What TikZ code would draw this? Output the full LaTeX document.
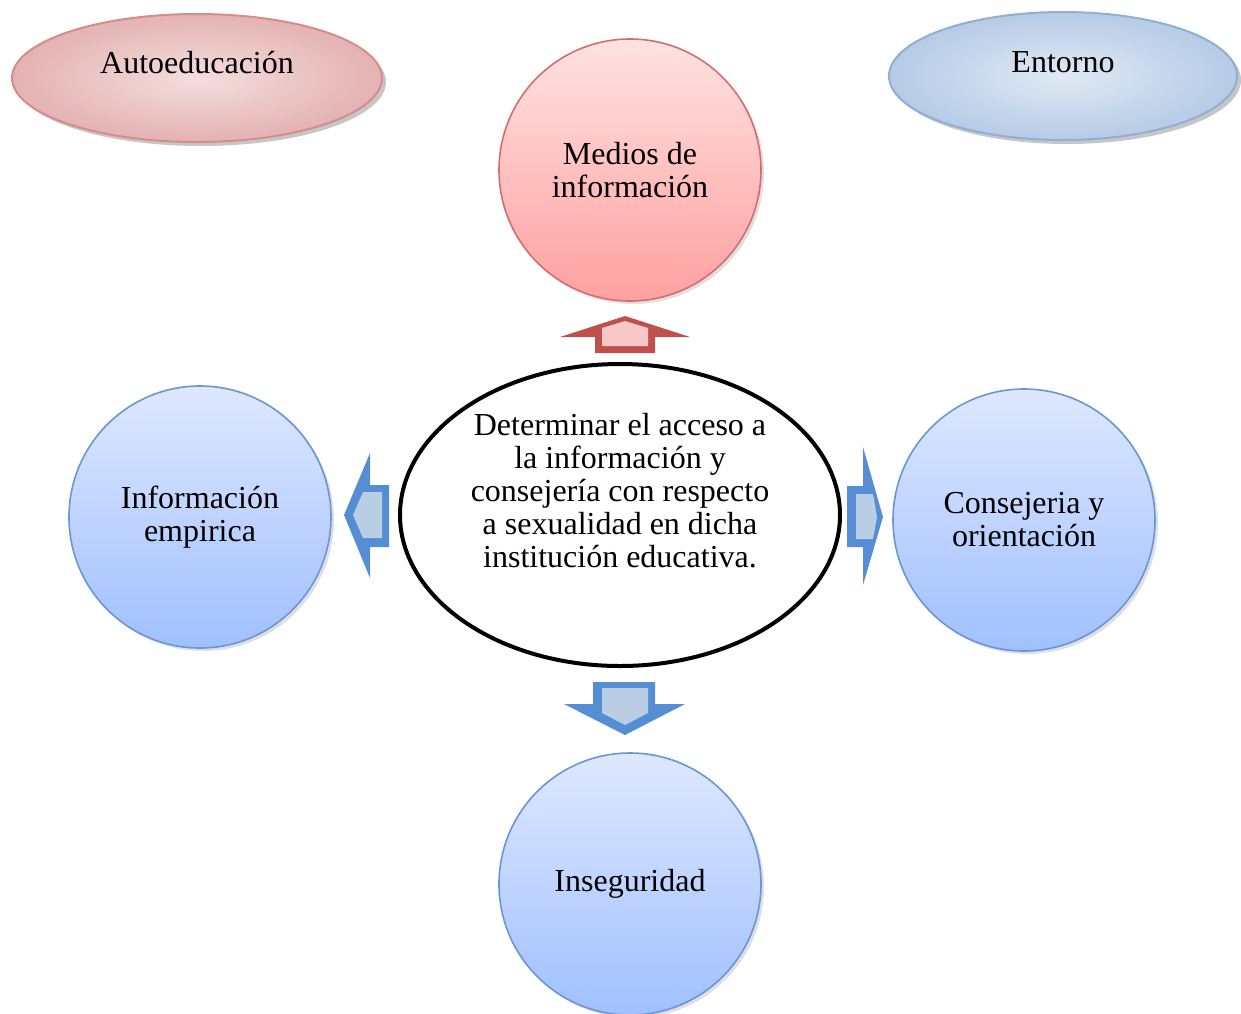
\documentclass[tikz,border=0pt]{standalone}
\usepackage{fontspec}
\setmainfont{Liberation Serif}
\usetikzlibrary{shapes.geometric,shadows}

\definecolor{azularriba}{RGB}{222,232,255}
\definecolor{azulabajo}{RGB}{160,192,255}
\definecolor{bordeazul}{RGB}{105,150,215}
\definecolor{rosaarriba}{RGB}{255,226,226}
\definecolor{rosaabajo}{RGB}{255,160,160}
\definecolor{borderojo}{RGB}{212,110,110}
\definecolor{flechaazul}{RGB}{85,142,213}
\definecolor{rellenoazul}{RGB}{185,205,229}
\definecolor{flecharoja}{RGB}{192,80,77}
\definecolor{rellenorojo}{RGB}{250,200,200}

\begin{document}
\begin{tikzpicture}[x=0.5pt,y=-0.5pt,
    every node/.style={font=\fontsize{16}{16.5}\selectfont, align=center},
    circulo/.style={circle, minimum size=131pt, inner sep=0pt, line width=0.8pt,
      drop shadow={opacity=0.25, shadow xshift=1.5pt, shadow yshift=-1.5pt}},
    azul/.style={circulo, draw=bordeazul, top color=azularriba, bottom color=azulabajo},
    rojo/.style={circulo, draw=borderojo, top color=rosaarriba, bottom color=rosaabajo},
    nube/.style={ellipse, inner sep=0pt, line width=1pt,
      drop shadow={opacity=0.45, shadow xshift=2pt, shadow yshift=-2pt}}]
    \useasboundingbox (0,0) rectangle (1241,1013);

    \node [nube, draw={rgb,255:red,215;green,140;blue,140}, inner color={rgb,255:red,244;green,222;blue,222}, outer color={rgb,255:red,228;green,178;blue,178}, minimum width=185pt, minimum height=64pt] (auto) at (197,78) {};
    \node [yshift=7.5pt] (autotexto) at (auto) {Autoeducación};
    \node [nube, draw={rgb,255:red,145;green,175;blue,212}, inner color={rgb,255:red,224;green,233;blue,244}, outer color={rgb,255:red,182;green,203;blue,230}, minimum width=174pt, minimum height=64pt] (entorno) at (1063,76) {};
    \node [yshift=7pt] (entornotexto) at (entorno) {Entorno};

    \node [rojo] (medios) at (630,170) {Medios de\\información};
    \node [azul] (empirica) at (200,517) {Información\\empirica};
    \node [azul] (consejeria) at (1024,520) {Consejeria y\\orientación};
    \node [azul] (inseguridad) at (630,884) {Inseguridad};

    \node [draw, ellipse, line width=2pt, fill=white, minimum width=220pt, minimum height=151pt] (centro) at (620,515) {};
    \node [yshift=12pt] (centrotexto) at (centro) {Determinar el acceso a\\la información y\\consejería con respecto\\a sexualidad en dicha\\institución educativa.};

    % flechas
    \fill [flecharoja] (625,316) -- (690,337) -- (655,337) -- (655,353) -- (595,353) -- (595,337) -- (560,337) -- cycle;
    \fill [rellenorojo] (625,321) -- (648,328) -- (648,346) -- (602,346) -- (602,328) -- cycle;
    \fill [flechaazul] (344,515) -- (370,453) -- (370,485) -- (389,485) -- (389,547) -- (370,547) -- (370,578) -- cycle;
    \fill [rellenoazul] (353,515) -- (363,492) -- (382,492) -- (382,538) -- (363,538) -- cycle;
    \fill [flechaazul] (883,517) -- (863,447) -- (863,486) -- (847,486) -- (847,547) -- (863,547) -- (863,585) -- cycle;
    \fill [rellenoazul] (877,517) -- (873,494) -- (856,494) -- (856,539) -- (873,539) -- cycle;
    \fill [flechaazul] (625,735) -- (564,704) -- (593,704) -- (593,682) -- (655,682) -- (655,704) -- (685,704) -- cycle;
    \fill [rellenoazul] (625,725) -- (602,713) -- (602,688) -- (648,688) -- (648,713) -- cycle;
\end{tikzpicture}
\end{document}
